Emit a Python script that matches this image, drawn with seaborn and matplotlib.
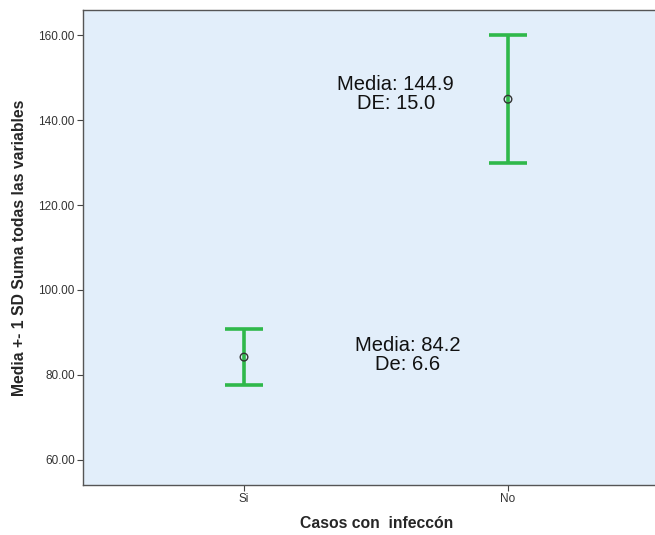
import matplotlib
matplotlib.use("Agg")
import matplotlib.pyplot as plt
import seaborn as sns
import pandas as pd

categories = ["Si", "No"]
means = [84.2, 144.9]
sds = [6.6, 15.0]
labels = ["Media: 84.2\nDe: 6.6", "Media: 144.9\nDE: 15.0"]
yticks = [60, 80, 100, 120, 140, 160]

df = pd.DataFrame({"cat": categories, "mean": means, "sd": sds})

sns.set_theme(style="white")
plt.rcParams["font.family"] = ["Liberation Sans", "DejaVu Sans"]

fig = plt.figure(figsize=(6.55, 5.35), dpi=100)
ax = fig.add_axes([83/655, 1 - 485/535, (669 - 83)/655, (485 - 10)/535])
ax.set_facecolor("#e2eefa")

green = "#2fb84a"
xpos = list(range(len(categories)))
ax.errorbar(xpos, df["mean"], yerr=df["sd"], fmt="none", ecolor=green,
            elinewidth=2.6, capsize=14, capthick=2.6, zorder=2)
sns.scatterplot(x=xpos, y=df["mean"], ax=ax, marker="o", s=30,
                facecolor="none", edgecolor="#333333", linewidth=1.0, zorder=3)

ax.text(0.62, 84.2 + 0.5, labels[0], ha="center", va="center", fontsize=14.5,
        color="#111111", linespacing=1.0)
ax.text(0.575, 144.9 + 1.2, labels[1], ha="center", va="center", fontsize=14.5,
        color="#111111", linespacing=1.0)

ax.set_xlim(-0.61, 1.61)
ax.set_ylim(54.1, 165.9)
ax.set_xticks(xpos)
ax.set_xticklabels(categories, fontsize=8.5, color="#333333")
ax.set_yticks(yticks)
ax.set_yticklabels([f"{v:.2f}" for v in yticks], fontsize=8.5, color="#333333")
ax.tick_params(axis="both", direction="out", length=4, width=0.8,
               color="#444444", left=True, bottom=True, pad=2)

for s in ax.spines.values():
    s.set_color("#555555")
    s.set_linewidth(1.0)

fig.text(20/655, 1 - 248/535, "Media +- 1 SD Suma todas las variables",
         rotation=90, ha="center", va="center", fontsize=11.3, fontweight="bold")
fig.text(377/655, 1 - 524/535, "Casos con  infeccón", ha="center", va="center",
         fontsize=11.3, fontweight="bold")
ax.set_xlabel("")
ax.set_ylabel("")

fig.savefig("out.png", dpi=100)
